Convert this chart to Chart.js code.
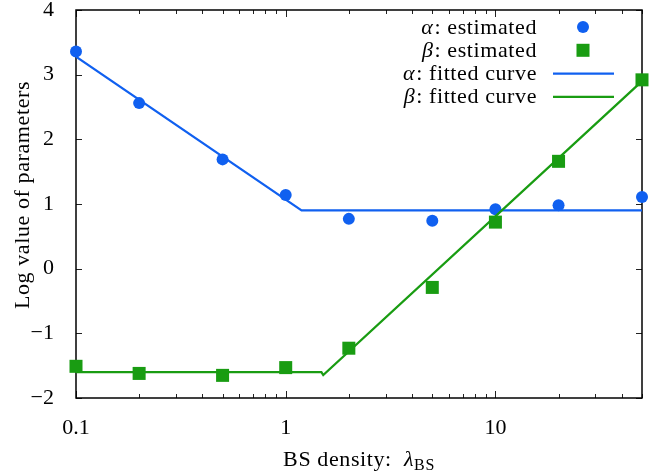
<!DOCTYPE html>
<html>
<head>
<meta charset="utf-8">
<script src="https://cdn.jsdelivr.net/npm/chart.js@4/dist/chart.umd.min.js"></script>
<style>
  html, body { margin: 0; padding: 0; background: #fff; }
  #wrap { width: 660px; height: 472px; }
</style>
</head>
<body>
<div id="wrap"><canvas id="c" width="660" height="472"></canvas></div>
<script>
// BS density samples and the per-density estimates (log values)
const densities = [0.1, 0.2, 0.5, 1, 2, 5, 10, 20, 50];
const alphaEst = [3.36, 2.56, 1.69, 1.14, 0.77, 0.74, 0.92, 0.98, 1.11];
const betaEst = [-1.51, -1.62, -1.65, -1.53, -1.23, -0.29, 0.72, 1.66, 2.92];

// piecewise fitted curves (break points)
const alphaFitX = [0.1, 1.19, 50];
const alphaFitY = [3.28, 0.90, 0.90];
const betaFitX = [0.1, 1.48, 1.51, 50];
const betaFitY = [-1.60, -1.60, -1.645, 2.90];

const xTicks = [0.1, 1, 10];
const yTicks = [-2, -1, 0, 1, 2, 3, 4];
const legendLabels = [
  ["α", ": estimated"],
  ["β", ": estimated"],
  ["α", ": fitted curve"],
  ["β", ": fitted curve"],
];

const BLUE = "#1060f0";
const GREEN = "#199c12";
const SERIF = "'Liberation Serif', 'Times New Roman', serif";
const FS = 22;

function pairs(xs, ys) {
  return xs.map((x, i) => ({ x, y: ys[i] }));
}

// frame + inward ticks on all four sides (mirrored like a gnuplot border)
const frameTicks = {
  id: "frameTicks",
  beforeDatasetsDraw(chart) {
    const { ctx, chartArea: a, scales: { x, y } } = chart;
    ctx.save();
    ctx.strokeStyle = "#222";
    ctx.lineWidth = 1;
    ctx.beginPath();
    for (let d = 0.1; d < 100; d *= 10) {
      for (let m = 1; m <= 9; m++) {
        const v = +(d * m).toPrecision(3);
        if (v < 0.1 || v > 50) continue;
        const px = Math.round(x.getPixelForValue(v)) + 0.5;
        const len = m === 1 ? 7 : 4;
        ctx.moveTo(px, a.bottom); ctx.lineTo(px, a.bottom - len);
        ctx.moveTo(px, a.top); ctx.lineTo(px, a.top + len);
      }
    }
    yTicks.forEach(v => {
      const py = Math.round(y.getPixelForValue(v)) + 0.5;
      ctx.moveTo(a.left, py); ctx.lineTo(a.left + 6, py);
      ctx.moveTo(a.right, py); ctx.lineTo(a.right - 6, py);
    });
    ctx.stroke();
    ctx.strokeStyle = "#000";
    ctx.lineWidth = 1.5;
    ctx.strokeRect(a.left, a.top, a.right - a.left, a.bottom - a.top);
    ctx.restore();
  },
};

// axis titles and the key in the upper right
const annotations = {
  id: "annotations",
  afterDraw(chart) {
    const { ctx, chartArea: a } = chart;
    const ds = chart.data.datasets;
    ctx.save();
    ctx.fillStyle = "#000";
    try { ctx.letterSpacing = "0.6px"; } catch (_) {}

    // key
    legendLabels.forEach(([g, rest], i) => {
      const yc = 27 + i * 23.3;
      const base = yc + 6.5;
      ctx.textAlign = "right";
      ctx.textBaseline = "alphabetic";
      ctx.font = FS + "px " + SERIF;
      ctx.fillStyle = "#000";
      ctx.fillText(rest, 537, base);
      const w = ctx.measureText(rest).width;
      ctx.font = "italic " + FS + "px " + SERIF;
      ctx.fillText(g, 537 - w - 1, base);

      const d = ds[i];
      if (d.showLine) {
        ctx.strokeStyle = d.borderColor;
        ctx.lineWidth = d.borderWidth;
        ctx.beginPath();
        ctx.moveTo(553, yc); ctx.lineTo(614, yc);
        ctx.stroke();
      } else if (d.pointStyle === "rect") {
        const s = d.pointRadius / Math.SQRT2;
        ctx.fillStyle = d.backgroundColor;
        ctx.fillRect(583 - s, yc - s, 2 * s, 2 * s);
      } else {
        ctx.fillStyle = d.backgroundColor;
        ctx.beginPath();
        ctx.arc(583, yc, d.pointRadius, 0, Math.PI * 2);
        ctx.fill();
      }
    });

    // x title: BS density: λ_BS
    ctx.fillStyle = "#000";
    ctx.textAlign = "left";
    ctx.font = FS + "px " + SERIF;
    const t1 = "BS density:  ";
    const w1 = ctx.measureText(t1).width;
    ctx.font = "italic " + FS + "px " + SERIF;
    const w2 = ctx.measureText("λ").width;
    ctx.font = "16px " + SERIF;
    const w3 = ctx.measureText("BS").width;
    const xs = (a.left + a.right) / 2 - (w1 + w2 + w3) / 2;
    ctx.font = FS + "px " + SERIF;
    ctx.fillText(t1, xs, 466);
    ctx.font = "italic " + FS + "px " + SERIF;
    ctx.fillText("λ", xs + w1, 466);
    ctx.font = "16px " + SERIF;
    ctx.fillText("BS", xs + w1 + w2, 470);

    // y title
    ctx.translate(28.5, 195);
    ctx.rotate(-Math.PI / 2);
    ctx.textAlign = "center";
    ctx.font = FS + "px " + SERIF;
    ctx.fillText("Log value of parameters", 0, 0);
    ctx.restore();
  },
};

function draw() {
  new Chart(document.getElementById("c"), {
    type: "scatter",
    data: {
      datasets: [
        {
          label: "alpha estimated",
          data: pairs(densities, alphaEst),
          pointStyle: "circle",
          pointRadius: 6,
          backgroundColor: BLUE,
          borderWidth: 0,
          clip: false,
          order: 3,
        },
        {
          label: "beta estimated",
          data: pairs(densities, betaEst),
          pointStyle: "rect",
          pointRadius: 9.2,
          backgroundColor: GREEN,
          borderWidth: 0,
          clip: false,
          order: 2,
        },
        {
          label: "alpha fitted",
          data: pairs(alphaFitX, alphaFitY),
          showLine: true,
          pointRadius: 0,
          borderColor: BLUE,
          borderWidth: 2.2,
          order: 1,
        },
        {
          label: "beta fitted",
          data: pairs(betaFitX, betaFitY),
          showLine: true,
          pointRadius: 0,
          borderColor: GREEN,
          borderWidth: 2.2,
          order: 0,
        },
      ],
    },
    options: {
      responsive: false,
      animation: false,
      events: [],
      layout: { padding: { top: 10, right: 18, left: 0, bottom: 0 } },
      plugins: { legend: { display: false }, tooltip: { enabled: false } },
      scales: {
        x: {
          type: "logarithmic",
          min: 0.1,
          max: 50,
          grid: { display: false },
          border: { display: false },
          afterBuildTicks: s => { s.ticks = xTicks.map(v => ({ value: v })); },
          afterFit: s => { s.height = 74; s.paddingLeft = 0; s.paddingRight = 0; },
          ticks: {
            autoSkip: false,
            maxRotation: 0,
            padding: 9,
            color: "#000",
            font: { family: SERIF, size: FS },
            callback: v => String(v),
          },
        },
        y: {
          type: "linear",
          min: -2,
          max: 4,
          grid: { display: false },
          border: { display: false },
          afterBuildTicks: s => { s.ticks = yTicks.map(v => ({ value: v })); },
          afterFit: s => { s.width = 76; s.paddingTop = 0; s.paddingBottom = 0; },
          ticks: {
            padding: 14,
            color: "#000",
            font: { family: SERIF, size: FS, lineHeight: 1 },
            callback: v => (v < 0 ? "\u2212" + Math.abs(v) : String(v)),
          },
        },
      },
    },
    plugins: [frameTicks, annotations],
  });
}

// make sure the serif face is resolved before the canvas measures text
Promise.all([
  document.fonts.load("22px 'Liberation Serif'"),
  document.fonts.load("italic 22px 'Liberation Serif'"),
]).catch(() => {}).then(draw);
</script>
</body>
</html>
